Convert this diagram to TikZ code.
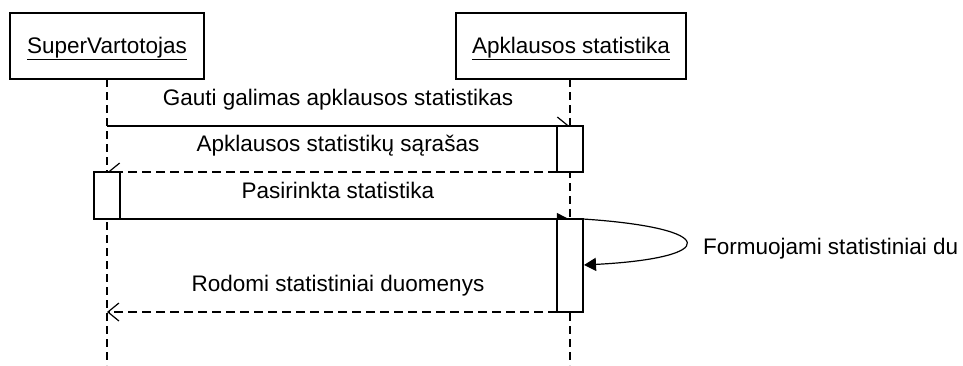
\documentclass[tikz,border=0pt]{standalone}
\usepackage{fontspec}
\setmainfont{Liberation Sans}
\usetikzlibrary{arrows.meta}
\begin{document}
\begin{tikzpicture}[x=1pt,y=-1pt,
  font=\fontsize{22.5}{27}\selectfont,
  every node/.style={inner sep=0pt, outer sep=0pt},
  objbox/.style={draw, line width=1.2pt, fill=white, minimum height=66pt},
  actbox/.style={draw, line width=1.2pt, fill=white, minimum width=26pt},
  lifeline/.style={line width=1.2pt, dash pattern=on 8pt off 5pt},
  callmsg/.style={line width=1.2pt},
  retmsg/.style={line width=1.2pt, dash pattern=on 9pt off 5pt},
  tick/.style={-{Straight Barb[left, length=11pt, width=18pt, line width=1.2pt]}},
  tickr/.style={-{Straight Barb[right, length=11pt, width=18pt, line width=1.2pt]}},
  halffill/.style={-{Triangle[left, length=12pt, width=12pt]}},
  fullfill/.style={-{Triangle[length=12pt, width=13pt]}},
  openhead/.style={-{Straight Barb[length=11pt, width=18pt, line width=1.2pt]}},
  msglabel/.style={anchor=base}
]
\useasboundingbox (0,0) rectangle (963,365);

% lifelines
\coordinate (svtop) at (107,79);
\coordinate (svbot) at (107,365);
\coordinate (aptop) at (570,79);
\coordinate (apbot) at (570,365);
\draw[lifeline] (svtop) -- (svbot);
\draw[lifeline] (aptop) -- (apbot);

% objects
\node[objbox, minimum width=194pt] (sv) at (107,46) {};
\node[anchor=base] (svlabel) at (107,53) {\underline{SuperVartotojas}};
\node[objbox, minimum width=230pt] (ap) at (571,46) {};
\node[anchor=base] (aplabel) at (571,53) {\underline{Apklausos statistika}};

% activations
\node[actbox, minimum height=46pt] (act1) at (570,149) {};
\node[actbox, minimum height=47pt] (act2) at (107,195.5) {};
\node[actbox, minimum height=93pt] (act3) at (570,265.5) {};

% message end points on the lifelines
\coordinate (m1s) at (107,126);
\coordinate (m4e) at (107,312);
\coordinate (selfend) at (584,265);

% messages
\draw[callmsg, tick] (m1s) -- (act1.north);
\node[msglabel] (l1) at (338,105) {Gauti galimas apklausos statistikas};

\draw[retmsg, tickr] (act1.south west) -- (act2.north);
\node[msglabel] (l2) at (338,151) {Apklausos statistikų sąrašas};

\draw[callmsg, halffill] (act2.south east) -- (act3.north);
\node[msglabel] (l3) at (338,198) {Pasirinkta statistika};

\draw[callmsg, fullfill] (act3.north east) .. controls (720,228) and (720,258) .. (selfend);
\node[anchor=base west] (l4) at (703,254) {Formuojami statistiniai du};

\draw[retmsg, openhead] (act3.south west) -- (m4e);
\node[msglabel] (l5) at (338,291) {Rodomi statistiniai duomenys};
\end{tikzpicture}
\end{document}
